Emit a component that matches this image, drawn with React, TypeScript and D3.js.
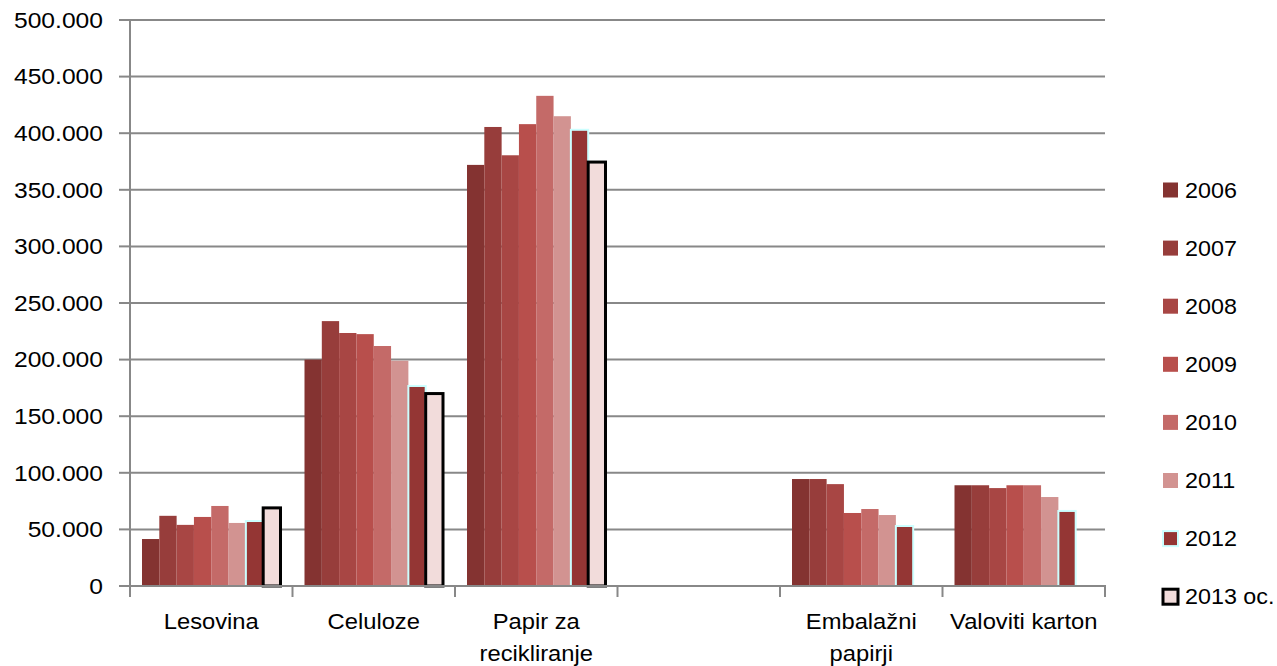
import * as d3 from "d3";
import { useEffect, useRef } from "react";

// category axis (one empty slot between the groups)
const categories = ["Lesovina", "Celuloze", "Papir za recikliranje", "", "Embalažni papirji", "Valoviti karton"];
const categoryLines = [["Lesovina"], ["Celuloze"], ["Papir za", "recikliranje"], [], ["Embalažni", "papirji"], ["Valoviti karton"]];

const years = ["2006", "2007", "2008", "2009", "2010", "2011", "2012", "2013 oc."];

// tonnes per category, null = no bar
const v2006 = [41500, 200000, 372000, null, 94500, 89000];
const v2007 = [62000, 234000, 405500, null, 94500, 89000];
const v2008 = [54000, 223500, 380500, null, 90000, 86500];
const v2009 = [61000, 222500, 408000, null, 64500, 89000];
const v2010 = [70700, 212000, 433000, null, 68000, 89000];
const v2011 = [55700, 199000, 415000, null, 62700, 78600];
const v2012 = [57400, 176700, 403000, null, 53000, 66300];
const v2013 = [69000, 170000, 374500, null, null, null];

const yTicks = [0, 50000, 100000, 150000, 200000, 250000, 300000, 350000, 400000, 450000, 500000];

const fills = ["#843331", "#973d3b", "#a84644", "#b84f4c", "#c46a68", "#d29391", "#943634", "#f2dcdb"];
const strokes = ["none", "none", "none", "none", "none", "none", "#ccffff", "#000000"];
const strokeW = [0, 0, 0, 0, 0, 0, 2, 3];

const App = () => {
  const ref = useRef(null);

  useEffect(() => {
    const series = [v2006, v2007, v2008, v2009, v2010, v2011, v2012, v2013];
    const left = 130, right = 1105, top = 20, bottom = 586;
    const font = "'Liberation Sans', Arial, sans-serif";

    const svg = d3.select(ref.current);
    svg.selectAll("*").remove();

    const x = d3.scaleBand().domain(categories.map((d, i) => String(i))).range([left, right]).padding(0);
    const xs = d3.scaleBand().domain(years).range([12, x.bandwidth() - 12]).padding(0);
    const y = d3.scaleLinear().domain([0, 500000]).range([bottom, top]);

    const loc = d3.formatLocale({ decimal: ",", thousands: ".", grouping: [3], currency: ["", ""] });
    const fmt = loc.format(",");

    // the reference text is a little wider than Liberation Sans
    const label = (g, tx, ty, anchor, sx) =>
      g.append("text")
        .attr("transform", `translate(${tx},${ty}) scale(${sx},1)`)
        .attr("text-anchor", anchor)
        .attr("dy", "0.35em")
        .attr("font-family", font)
        .attr("font-size", 22)
        .attr("fill", "#000");

    // gridlines
    svg.append("g")
      .selectAll("line")
      .data(yTicks.slice(1))
      .join("line")
      .attr("x1", left)
      .attr("x2", right)
      .attr("y1", (d) => y(d))
      .attr("y2", (d) => y(d))
      .attr("stroke", "#888888")
      .attr("stroke-width", 2);

    // bars
    series.forEach((vals, si) => {
      svg.append("g")
        .selectAll("rect")
        .data(vals.map((v, ci) => ({ v, ci })).filter((d) => d.v != null))
        .join("rect")
        .attr("x", (d) => x(String(d.ci)) + xs(years[si]))
        .attr("y", (d) => y(d.v))
        .attr("width", xs.bandwidth())
        .attr("height", (d) => bottom - y(d.v))
        .attr("fill", fills[si])
        .attr("stroke", strokes[si])
        .attr("stroke-width", strokeW[si]);
    });

    // y axis
    const ya = svg.append("g");
    ya.append("line")
      .attr("x1", left).attr("x2", left).attr("y1", top).attr("y2", bottom)
      .attr("stroke", "#888888").attr("stroke-width", 2);
    ya.selectAll("line.t")
      .data(yTicks)
      .join("line")
      .attr("class", "t")
      .attr("x1", left - 11).attr("x2", left)
      .attr("y1", (d) => y(d)).attr("y2", (d) => y(d))
      .attr("stroke", "#888888").attr("stroke-width", 2);
    yTicks.forEach((t) => {
      label(ya, 103, y(t), "end", 1.12).text(fmt(t));
    });

    // x axis
    const xa = svg.append("g");
    xa.append("line")
      .attr("x1", left - 1).attr("x2", right + 1).attr("y1", bottom).attr("y2", bottom)
      .attr("stroke", "#888888").attr("stroke-width", 2);
    const edges = categories.map((d, i) => x(String(i))).concat([right]);
    xa.selectAll("line.t")
      .data(edges)
      .join("line")
      .attr("class", "t")
      .attr("x1", (d) => d).attr("x2", (d) => d)
      .attr("y1", bottom).attr("y2", bottom + 11)
      .attr("stroke", "#888888").attr("stroke-width", 2);
    categoryLines.forEach((lines, ci) => {
      lines.forEach((ln, li) => {
        label(xa, x(String(ci)) + x.bandwidth() / 2, 621 + li * 32, "middle", 1.08).text(ln);
      });
    });

    // legend
    const lg = svg.append("g");
    years.forEach((yr, i) => {
      const cy = 190 + i * 58.1;
      lg.append("rect")
        .attr("x", 1163).attr("y", cy - 7.5)
        .attr("width", 15).attr("height", 15)
        .attr("fill", fills[i])
        .attr("stroke", strokes[i])
        .attr("stroke-width", strokeW[i]);
      label(lg, 1185, cy, "start", 1.06).text(yr);
    });
  }, []);

  return (
    <svg
      ref={ref}
      width={1277}
      height={666}
      style={{ position: "absolute", left: 0, top: 0, background: "#fff" }}
    />
  );
};

export default App;
